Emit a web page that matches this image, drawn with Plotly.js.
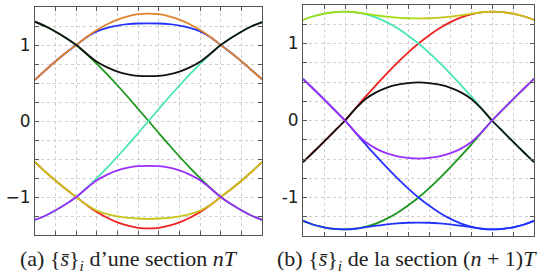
<!DOCTYPE html>
<html><head><meta charset="utf-8">
<script src="https://cdn.plot.ly/plotly-3.0.1.min.js"></script>
<style>html,body{margin:0;padding:0;background:#fff}#chart{width:543px;height:278px}</style>
</head><body><div id="chart"></div>
<script>
// x positions (same for both panels)
const xs = [0,0.5,1,1.5,2,2.5,3,3.5,4,4.5,5,5.5,6,6.5,7,7.5,8,8.5,9,9.5,10,10.5,11];
const xTicks = [0,1,2,3,4,5,6,7,8,9,10,11];
const yTicks = [-1.5,-1.25,-1,-0.75,-0.5,-0.25,0,0.25,0.5,0.75,1,1.25,1.5];
const yTextA = ['','','\u22121','','','','0','','','','1','',''];
const yTextB = ['','','-1','','','','0','','','','1','',''];

// Panel (a): {s}_i d'une section nT
const aOrange = [0.541,0.668,0.787,0.898,1.000,1.105,1.198,1.274,1.335,1.378,1.405,1.414,1.405,1.378,1.335,1.274,1.198,1.105,1.000,0.898,0.787,0.668,0.550];
const aBlue   = [0.541,0.668,0.787,0.898,1.000,1.103,1.180,1.226,1.256,1.274,1.283,1.285,1.283,1.274,1.256,1.226,1.180,1.103,1.000,0.898,0.787,0.668,0.550];
const aBlack  = [1.307,1.246,1.175,1.093,1.000,0.885,0.780,0.705,0.650,0.615,0.595,0.590,0.595,0.615,0.650,0.705,0.780,0.885,1.000,1.093,1.175,1.246,1.300];
const aGreen  = [1.307,1.246,1.175,1.093,1.000,0.882,0.752,0.613,0.467,0.316,0.158,0.000,-0.158,-0.316,-0.467,-0.613,-0.752,-0.882,-1.000,-1.093,-1.175,-1.246,-1.300];
const aCyan   = [-1.300,-1.246,-1.175,-1.093,-1.000,-0.882,-0.752,-0.613,-0.467,-0.316,-0.158,0.000,0.158,0.316,0.467,0.613,0.752,0.882,1.000,1.093,1.175,1.246,1.300];
const aPurple = [-1.300,-1.246,-1.175,-1.093,-1.000,-0.885,-0.780,-0.705,-0.650,-0.615,-0.595,-0.590,-0.595,-0.615,-0.650,-0.705,-0.780,-0.885,-1.000,-1.093,-1.175,-1.246,-1.300];
const aYellow = [-0.541,-0.668,-0.787,-0.898,-1.000,-1.103,-1.180,-1.226,-1.256,-1.274,-1.283,-1.288,-1.283,-1.274,-1.256,-1.226,-1.180,-1.103,-1.000,-0.898,-0.787,-0.668,-0.541];
const aRed    = [-0.541,-0.668,-0.787,-0.898,-1.000,-1.105,-1.198,-1.274,-1.335,-1.378,-1.405,-1.414,-1.405,-1.378,-1.335,-1.274,-1.198,-1.105,-1.000,-0.898,-0.787,-0.668,-0.541];

// Panel (b): {s}_i de la section (n+1)T
const bTop    = [1.307,1.354,1.388,1.408,1.414,1.406,1.386,1.366,1.348,1.336,1.328,1.326,1.328,1.336,1.348,1.366,1.386,1.406,1.414,1.408,1.388,1.354,1.307];
const bBottom = [-1.300,-1.354,-1.388,-1.408,-1.414,-1.406,-1.386,-1.366,-1.348,-1.336,-1.328,-1.326,-1.328,-1.336,-1.348,-1.366,-1.386,-1.406,-1.414,-1.408,-1.388,-1.354,-1.300];
const bBlack  = [-0.542,-0.409,-0.274,-0.138,0.000,0.154,0.283,0.368,0.428,0.466,0.486,0.495,0.486,0.466,0.428,0.368,0.283,0.154,0.000,-0.138,-0.274,-0.409,-0.542];
const bPurple = [0.542,0.409,0.274,0.138,0.000,-0.154,-0.283,-0.368,-0.428,-0.466,-0.486,-0.495,-0.486,-0.466,-0.428,-0.368,-0.283,-0.154,0.000,0.138,0.274,0.409,0.542];
const bRed    = [-0.541,-0.409,-0.275,-0.138,0.000,0.158,0.316,0.467,0.613,0.752,0.882,1.000,1.105,1.198,1.274,1.335,1.378,1.405,1.414,1.407,1.387,1.354,1.307];
const bCyan   = [1.307,1.354,1.387,1.407,1.414,1.405,1.378,1.335,1.274,1.198,1.105,1.000,0.882,0.752,0.613,0.467,0.316,0.158,0.000,-0.138,-0.275,-0.409,-0.541];
const bGreen  = [-1.307,-1.354,-1.387,-1.407,-1.414,-1.405,-1.378,-1.335,-1.274,-1.198,-1.105,-1.000,-0.882,-0.752,-0.613,-0.467,-0.316,-0.158,0.000,0.138,0.275,0.409,0.541];
const bBlue   = [0.541,0.409,0.275,0.138,0.000,-0.158,-0.316,-0.467,-0.613,-0.752,-0.882,-1.000,-1.105,-1.198,-1.274,-1.335,-1.378,-1.405,-1.414,-1.407,-1.387,-1.354,-1.307];

const C = {orange:'#e0832a', blue:'#2233ff', black:'#111111', green:'#1c961c', cyan:'#48e6b4',
           purple:'#9a2eff', yellow:'#c6c418', red:'#ee2020', lime:'#a2dc14'};
const W = 1.8;

function tr(x, y, color, ax) {
  return {x: x, y: y, type:'scatter', mode:'lines', xaxis: ax[0], yaxis: ax[1],
          line:{color: color, width: W, shape:'spline', smoothing:0.8}, hoverinfo:'skip', showlegend:false};
}
const A = ['x','y'], B = ['x2','y2'];
const mid = xs.indexOf(5.5);

const data = [
  tr(xs, aBlue, C.blue, A), tr(xs, aRed, C.red, A), tr(xs, aGreen, C.green, A), tr(xs, aCyan, C.cyan, A),
  tr(xs, aOrange, C.orange, A), tr(xs, aYellow, C.yellow, A), tr(xs, aBlack, C.black, A), tr(xs, aPurple, C.purple, A),

  tr(xs, bRed, C.red, B), tr(xs, bCyan, C.cyan, B), tr(xs, bGreen, C.green, B), tr(xs, bBlue, C.blue, B),
  tr(xs.slice(mid), bTop.slice(mid), C.yellow, B), tr(xs.slice(0, mid+1), bTop.slice(0, mid+1), C.lime, B),
  tr(xs, bBottom, C.blue, B), tr(xs, bBlack, C.black, B), tr(xs, bPurple, C.purple, B)
];

function xax(domain, anchor) {
  return {domain: domain, anchor: anchor, range:[0,11], tickmode:'array', tickvals:xTicks, showticklabels:false,
    ticks:'inside', ticklen:4, tickcolor:'#555', tickwidth:1, showline:true, linecolor:'#555', linewidth:1,
    mirror:'allticks', showgrid:true, gridcolor:'#cfcfcf', griddash:'dot', gridwidth:1, zeroline:false, fixedrange:true};
}
function yax(domain, anchor, texts) {
  return {domain: domain, anchor: anchor, range:[-1.5,1.5], tickmode:'array', tickvals:yTicks, ticktext:texts,
    ticks:'inside', ticklen:4, tickcolor:'#555', tickwidth:1, showline:true, linecolor:'#555', linewidth:1,
    mirror:'allticks', showgrid:true, gridcolor:'#cfcfcf', griddash:'dot', gridwidth:1, zeroline:false, fixedrange:true,
    tickfont:{family:'DejaVu Sans, sans-serif', size:17, color:'#222'}, ticklabelstandoff:0};
}

const H = 278, Wd = 543;
const capFont = {family:'Liberation Serif, serif', size:22, color:'#222'};
const layout = {
  width: Wd, height: H, margin:{l:0,r:0,t:0,b:0}, paper_bgcolor:'#fff', plot_bgcolor:'#fff', showlegend:false,
  xaxis: xax([35/Wd, 262/Wd], 'y'),
  yaxis: yax([(H-235)/H, (H-7)/H], 'x', yTextA),
  xaxis2: xax([303/Wd, 534/Wd], 'y2'),
  yaxis2: yax([(H-236)/H, (H-5)/H], 'x2', yTextB),
  annotations: [
    {xref:'paper', yref:'paper', x:129/Wd, y:(H-260)/H, xanchor:'center', yanchor:'middle', showarrow:false,
     text:'(a) {<i>s\u0304</i>}<sub><i>i</i></sub> d\u2019une section <i>nT</i>', font: capFont},
    {xref:'paper', yref:'paper', x:407/Wd, y:(H-260)/H, xanchor:'center', yanchor:'middle', showarrow:false,
     text:'(b) {<i>s\u0304</i>}<sub><i>i</i></sub> de la section (<i>n</i> + 1)<i>T</i>', font: capFont}
  ]
};
Plotly.newPlot('chart', data, layout, {staticPlot:true, displayModeBar:false});
</script>
</body></html>
